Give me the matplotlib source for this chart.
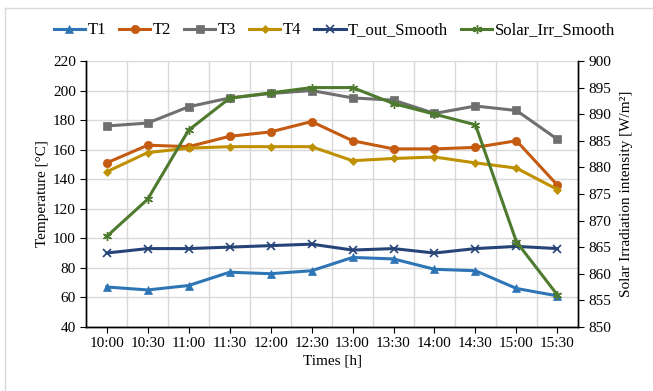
import matplotlib.pyplot as plt
import numpy as np
from matplotlib.lines import Line2D

times = ["10:00", "10:30", "11:00", "11:30", "12:00", "12:30",
         "13:00", "13:30", "14:00", "14:30", "15:00", "15:30"]
t1 = [67, 65, 68, 77, 76, 78, 87, 86, 79, 78, 66, 61]
t2 = [151, 163, 162, 169, 172, 179, 166, 160.5, 160.5, 161.5, 166, 136]
t3 = [176, 178, 189, 195, 198, 200, 195, 193.5, 184.5, 189.5, 186.5, 167]
t4 = [145, 158, 161, 162, 162, 162, 152.5, 154, 155, 151, 147.5, 133]
t_out = [90, 93, 93, 94, 95, 96, 92, 93, 90, 93, 94.5, 93]
solar = [867, 874, 887, 893, 894, 895, 895, 892, 890, 888, 866, 856]

plt.rcParams['font.family'] = ['Liberation Serif', 'DejaVu Serif']
plt.rcParams['font.size'] = 11

fig = plt.figure(figsize=(6.53, 3.91), dpi=100)
ax = fig.add_axes([0.132, 0.164, 0.753, 0.68])
ax2 = ax.twinx()

x = np.arange(len(times))
lw = 2.2
series = [
    (t1, "T1", "#2E75B6", "^", 6, 0.5, ax),
    (t2, "T2", "#C55A11", "o", 6, 0.5, ax),
    (t3, "T3", "#6F6F6F", "s", 6, 0.5, ax),
    (t4, "T4", "#BF9000", "D", 4.5, 0.5, ax),
    (t_out, "T_out_Smooth", "#264478", "x", 5.5, 1.2, ax),
    (solar, "Solar_Irr_Smooth", "#4E7A2E", (6, 2, 0), 6.5, 1.0, ax2),
]
handles = []
for vals, label, col, mk, size, mew, a in series:
    a.plot(x, vals, color=col, lw=lw, marker=mk, markersize=size,
           markeredgewidth=mew, markeredgecolor=col, label=label, zorder=3)
    handles.append(Line2D([0], [0], color=col, lw=lw, marker=mk,
                          markersize=size, markeredgecolor=col,
                          markeredgewidth=mew))

ax.set_xlim(-0.5, 11.5)
ax.set_ylim(40, 220)
ax.set_yticks(np.arange(40, 221, 20))
ax2.set_ylim(850, 900)
ax2.set_yticks(np.arange(850, 901, 5))
ax.set_xticks(x)
ax.set_xticklabels(times)
ax.set_xticks(np.arange(0.5, 11, 1), minor=True)

ax.grid(which='major', axis='y', color='#D9D9D9', lw=1)
ax.grid(which='minor', axis='x', color='#D9D9D9', lw=1)
ax.set_axisbelow(True)
ax.tick_params(which='minor', length=0)
ax.tick_params(which='major', direction='out', length=4, color='black')
ax2.tick_params(direction='out', length=4, color='black')

for a in (ax, ax2):
    a.spines['top'].set_visible(False)
    for s in ('left', 'right', 'bottom'):
        a.spines[s].set_color('black')
        a.spines[s].set_linewidth(1)

ax.set_xlabel("Times [h]", labelpad=3)
ax.set_ylabel("Temperature [°C]", labelpad=3)
ax2.set_ylabel("Solar Irradiation intensity [W/m²]", labelpad=6)

fig.legend(handles, [s[1] for s in series], loc='center', bbox_to_anchor=(0.512, 0.922),
           ncol=6, frameon=False, handlelength=1.9, handletextpad=0.15,
           columnspacing=0.75, fontsize=12)

# thin frame around the chart area
fig.add_artist(Line2D([5 / 653, 5 / 653], [0, 1 - 8 / 391], transform=fig.transFigure,
                      color='#D9D9D9', lw=1))
fig.add_artist(Line2D([5 / 653, 1], [1 - 8 / 391, 1 - 8 / 391], transform=fig.transFigure,
                      color='#D9D9D9', lw=1))

fig.savefig("out.png", dpi=100)
